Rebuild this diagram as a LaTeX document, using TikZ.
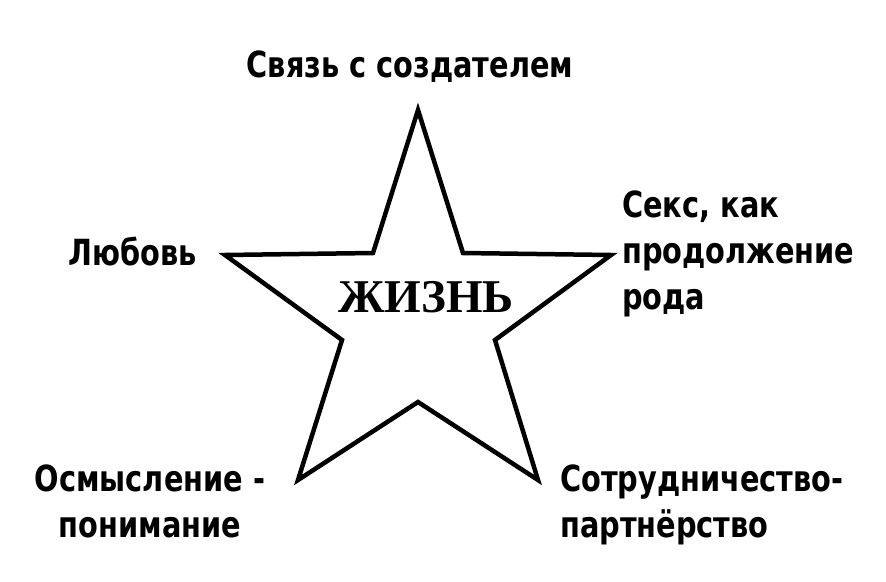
\documentclass[tikz,border=0pt]{standalone}
\usepackage{fontspec}
\setmainfont[FakeStretch=0.8]{DejaVu Sans}
\newfontfamily\lifefont{Liberation Serif}
\usetikzlibrary{positioning}

\tikzset{
  label text/.style={font=\bfseries\fontsize{36}{46}\selectfont, inner sep=0pt},
  life text/.style={font=\lifefont\bfseries\fontsize{47}{48}\selectfont, inner sep=0pt},
  star line/.style={line width=4.5pt, line join=miter}
}

\begin{document}
\begin{tikzpicture}[x=1pt,y=-1pt]
  \useasboundingbox (0,0) rectangle (886,581);
  % star
  \draw[star line] (418,110) -- (463,253) -- (611,255) -- (495,340) -- (538,480)
    -- (418,402) -- (298,480) -- (342,340) -- (225,255) -- (373,253) -- cycle;
  \node[life text, anchor=base] (life) at (426,312) {ЖИЗНЬ};
  % labels
  \node[label text, anchor=base] (link) at (410,77) {Связь с создателем};
  \node[label text, anchor=base] (love) at (133,265) {Любовь};
  \node[label text, anchor=north west, align=left] (sex) at (622,191)
    {Секс, как\\продолжение\\рода};
  \node[label text, anchor=north, align=center] (sense) at (150,465)
    {Осмысление -\\понимание};
  \node[label text, anchor=north west, align=left] (work) at (560,465)
    {Сотрудничество-\\партнёрство};
\end{tikzpicture}
\end{document}
